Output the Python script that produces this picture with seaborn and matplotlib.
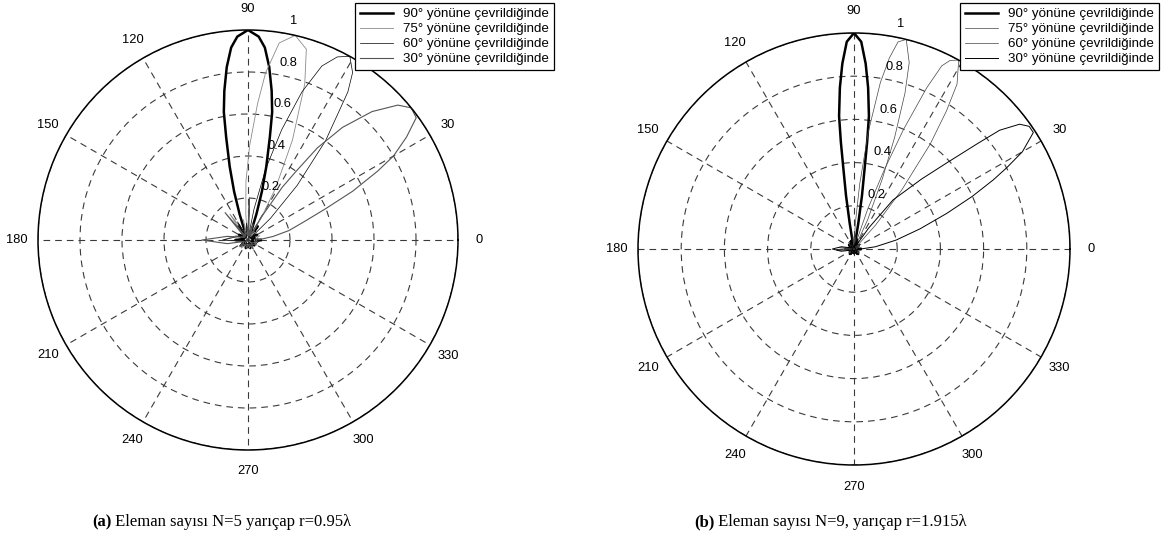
import numpy as np
import matplotlib
matplotlib.use("Agg")
import matplotlib.pyplot as plt
import seaborn as sns

# ---- data: (angle in degrees, normalised radius) ----
# panel (a): N=5, r=0.95 lambda
theta_a90 = [0, 15, 30, 45, 55, 62, 68, 70, 72, 74, 76, 78, 79.3, 81, 83, 85, 87, 90, 93, 95, 97, 99, 100.7,
             102, 104, 106, 108, 110, 112, 118, 125, 135, 150, 165, 180, 200, 220, 240, 255, 270, 285, 300, 320, 340, 360]
r_a90 = [0.06, 0.02, 0.05, 0.02, 0.08, 0.02, 0.03, 0.05, 0.13, 0.24, 0.36, 0.50, 0.62, 0.72, 0.83, 0.92, 0.97, 1.00,
         0.97, 0.92, 0.83, 0.72, 0.62, 0.50, 0.36, 0.24, 0.13, 0.05, 0.03, 0.02, 0.08, 0.02, 0.05, 0.02, 0.06, 0.02,
         0.04, 0.02, 0.04, 0.02, 0.04, 0.02, 0.04, 0.02, 0.06]

theta_a75 = [0, 20, 40, 50, 56, 59, 62, 66, 70, 73, 77, 81, 84, 86, 89, 92, 95, 98, 103, 110, 125, 140, 160, 180,
             200, 230, 260, 280, 300, 330, 360]
r_a75 = [0.03, 0.06, 0.02, 0.05, 0.02, 0.12, 0.28, 0.52, 0.79, 0.95, 1.00, 0.95, 0.80, 0.65, 0.45, 0.28, 0.12, 0.02,
         0.10, 0.03, 0.15, 0.02, 0.06, 0.12, 0.02, 0.05, 0.02, 0.04, 0.02, 0.05, 0.03]

theta_a60 = [0, 20, 30, 36, 40, 44, 48, 52, 56, 58, 61, 64, 67, 70, 73, 76, 79, 82, 95, 110, 120, 140, 160, 180,
             195, 215, 240, 270, 300, 330, 360]
r_a60 = [0.06, 0.02, 0.05, 0.02, 0.02, 0.15, 0.35, 0.60, 0.85, 0.94, 1.00, 0.97, 0.90, 0.75, 0.55, 0.35, 0.15, 0.02,
         0.08, 0.02, 0.10, 0.02, 0.05, 0.12, 0.02, 0.05, 0.02, 0.04, 0.02, 0.04, 0.06]

theta_a30 = [0, 3, 8, 13, 18, 22, 25, 28, 30, 33, 36, 39, 42, 46, 50, 53, 55, 57, 60, 63, 72, 80, 88, 94, 110, 122,
             130, 140, 160, 170, 180, 190, 200, 220, 240, 260, 280, 300, 320, 340, 360]
r_a30 = [0.04, 0.06, 0.12, 0.20, 0.28, 0.40, 0.55, 0.70, 0.80, 0.90, 0.99, 1.00, 0.96, 0.85, 0.70, 0.55, 0.40, 0.30,
         0.12, 0.02, 0.08, 0.02, 0.20, 0.02, 0.05, 0.02, 0.17, 0.02, 0.04, 0.10, 0.22, 0.10, 0.02, 0.05, 0.02, 0.04,
         0.02, 0.05, 0.02, 0.04, 0.04]

# panel (b): N=9, r=1.915 lambda
theta_b90 = [0, 20, 40, 60, 70, 76, 79, 80.5, 81.5, 82.5, 83, 83.6, 85, 86.4, 88, 90, 92, 93.6, 95, 96.4, 97, 97.5,
             98.5, 99.5, 101, 104, 110, 120, 140, 160, 180, 200, 230, 260, 270, 280, 310, 340, 360]
r_b90 = [0.03, 0.01, 0.03, 0.01, 0.04, 0.01, 0.03, 0.12, 0.25, 0.38, 0.50, 0.62, 0.75, 0.86, 0.96, 1.00, 0.96, 0.86,
         0.75, 0.62, 0.50, 0.38, 0.25, 0.12, 0.03, 0.01, 0.04, 0.01, 0.03, 0.01, 0.04, 0.01, 0.03, 0.01, 0.02, 0.01,
         0.03, 0.01, 0.03]

theta_b75 = [0, 30, 50, 58, 62, 65, 68, 70, 71.9, 73.5, 76, 78, 79.5, 81, 83, 85, 87, 89, 95, 105, 130, 160, 185,
             200, 240, 280, 320, 360]
r_b75 = [0.01, 0.03, 0.01, 0.04, 0.02, 0.15, 0.35, 0.55, 0.76, 0.90, 1.00, 0.98, 0.90, 0.78, 0.55, 0.30, 0.12, 0.02,
         0.06, 0.01, 0.04, 0.01, 0.08, 0.01, 0.03, 0.01, 0.03, 0.01]

theta_b60 = [0, 20, 35, 45, 48, 51, 54, 56.2, 58, 61, 63, 64.4, 65.7, 67.5, 69, 71, 73, 85, 100, 120, 150, 175, 190,
             220, 260, 300, 330, 360]
r_b60 = [0.02, 0.01, 0.04, 0.02, 0.15, 0.35, 0.60, 0.77, 0.90, 1.00, 0.98, 0.94, 0.82, 0.60, 0.40, 0.20, 0.03, 0.06,
         0.01, 0.04, 0.01, 0.07, 0.01, 0.03, 0.01, 0.03, 0.01, 0.02]

theta_b30 = [0, 2, 6, 12, 17, 21, 24, 26.4, 28, 30, 33, 35, 37, 39.2, 40.5, 42.8, 46, 51.5, 55, 58, 70, 90, 120,
             150, 170, 180, 190, 210, 240, 270, 300, 330, 360]
r_b30 = [0.02, 0.04, 0.10, 0.20, 0.32, 0.46, 0.60, 0.72, 0.80, 0.90, 0.99, 0.99, 0.96, 0.87, 0.75, 0.59, 0.45, 0.29,
         0.12, 0.02, 0.05, 0.01, 0.04, 0.01, 0.06, 0.10, 0.06, 0.01, 0.03, 0.01, 0.03, 0.01, 0.02]

legend_labels = ["90° yönüne çevrildiğinde", "75° yönüne çevrildiğinde",
                 "60° yönüne çevrildiğinde", "30° yönüne çevrildiğinde"]
angle_ticks = list(range(0, 360, 30))
ring_ticks = [0.2, 0.4, 0.6, 0.8, 1.0]
ring_labels = ["0.2", "0.4", "0.6", "0.8", "1"]
caption_tags = ["(a)", "(b)"]
caption_texts = [" Eleman sayısı N=5 yarıçap r=0.95λ", " Eleman sayısı N=9, yarıçap r=1.915λ"]

plt.rcParams['font.family'] = ['Liberation Sans', 'DejaVu Sans']

W, H = 1164, 543
fig = plt.figure(figsize=(W / 100, H / 100), dpi=100)
bg = fig.add_axes([0, 0, 1, 1])
bg.axis('off')


def polar_panel(cx, cy, R):
    ax = fig.add_axes([(cx - R) / W, (H - cy - R) / H, 2 * R / W, 2 * R / H], projection='polar')
    ax.set_ylim(0, 1)
    ax.set_xticks(np.radians(angle_ticks))
    ax.set_xticklabels([])
    ax.set_yticks(ring_ticks)
    ax.set_yticklabels([])
    ax.grid(True, color='#3a3a3a', lw=0.8, ls=(0, (6, 4.5)))
    ax.spines['polar'].set_color('black')
    ax.spines['polar'].set_linewidth(1.1)
    for a in angle_ticks:
        ax.text(np.radians(a), 1.1, str(a), ha='center', va='center', fontsize=9.3, clip_on=False)
    for rr, lab in zip(ring_ticks, ring_labels):
        ax.annotate(lab, xy=(np.radians(82), rr), xytext=(12, 8), textcoords='offset points',
                    ha='center', va='center', fontsize=9.3)
    return ax


def draw(ax, th, r, color, lw, label):
    sns.lineplot(x=np.radians(th), y=r, ax=ax, sort=False, estimator=None,
                 color=color, lw=lw, label=label, legend=False)


ax_a = polar_panel(248, 240, 210)
draw(ax_a, theta_a90, r_a90, 'black', 1.8, legend_labels[0])
draw(ax_a, theta_a75, r_a75, '#8a8a8a', 0.6, legend_labels[1])
draw(ax_a, theta_a60, r_a60, 'black', 0.5, legend_labels[2])
draw(ax_a, theta_a30, r_a30, '#555555', 0.8, legend_labels[3])

ax_b = polar_panel(854, 249, 216)
draw(ax_b, theta_b90, r_b90, 'black', 1.8, legend_labels[0])
draw(ax_b, theta_b75, r_b75, '#444444', 0.5, legend_labels[1])
draw(ax_b, theta_b60, r_b60, '#444444', 0.5, legend_labels[2])
draw(ax_b, theta_b30, r_b30, 'black', 0.7, legend_labels[3])

for ax, (lx, ly) in [(ax_a, (355, 3)), (ax_b, (960, 3))]:
    ax.set_xlabel('')
    ax.set_ylabel('')
    leg = ax.legend(loc='upper left', bbox_to_anchor=(lx / W, 1 - ly / H), bbox_transform=fig.transFigure,
                    fontsize=9.6, frameon=True, fancybox=False, edgecolor='black', framealpha=1,
                    handlelength=2.5, handletextpad=0.7, borderpad=0.38, labelspacing=0.2, borderaxespad=0)
    leg.get_frame().set_linewidth(0.9)

# captions: bold tag followed by regular text
for (x0, y0), tag, txt in zip([(92, 522), (694, 522)], caption_tags, caption_texts):
    t = bg.text(x0 / W, 1 - y0 / H, tag, transform=bg.transAxes, ha='left', va='center',
                fontsize=12, fontweight='bold', family='Liberation Serif')
    bg.annotate(txt, xy=(1, 0.5), xycoords=t, ha='left', va='center',
                fontsize=12, family='Liberation Serif')

fig.savefig('out.png', dpi=100)
